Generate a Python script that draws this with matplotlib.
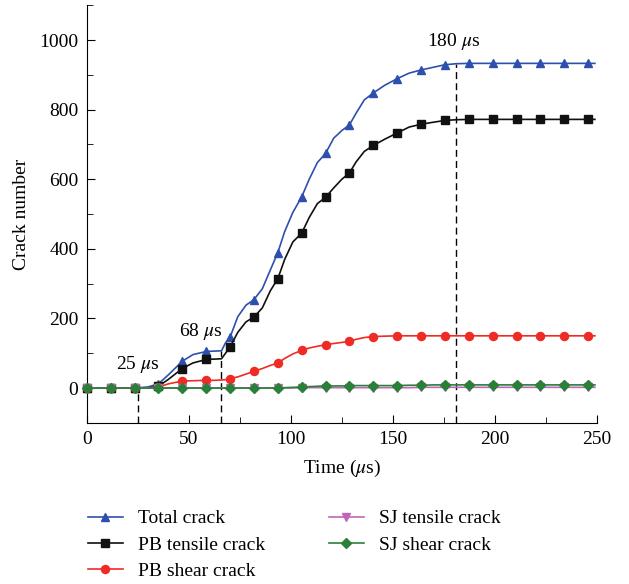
import numpy as np
import matplotlib
matplotlib.use("Agg")
import matplotlib.pyplot as plt

plt.rcParams["font.family"] = ["Liberation Serif", "DejaVu Serif"]
plt.rcParams["mathtext.fontset"] = "stix"

# time grid (us); markers sit on the 11.7 us points
time = [0, 11.7, 23.4, 30, 35.1, 40, 46.8, 52, 58.5, 62, 66, 68, 70.2, 74, 78,
        81.9, 86, 90, 93.6, 97, 101, 105.3, 109, 113, 117, 121, 125, 128.7,
        132, 136, 140.4, 146, 152.1, 158, 163.8, 170, 175.5, 181, 187.2,
        198.9, 210.6, 222.3, 234, 245.7, 249]
marker_times = [0, 11.7, 23.4, 35.1, 46.8, 58.5, 70.2, 81.9, 93.6, 105.3, 117,
                128.7, 140.4, 152.1, 163.8, 175.5, 187.2, 198.9, 210.6, 222.3,
                234, 245.7]

total = [0, 0, 0, 3, 12, 38, 77, 96, 105, 106, 107, 130, 146, 205, 238,
         254, 285, 340, 389, 450, 505, 549, 600, 648, 674, 718, 740, 756,
         790, 828, 848, 870, 889, 905, 914, 922, 929, 932, 933,
         933, 933, 933, 933, 933, 933]
pb_tensile = [0, 0, 0, 0, 5, 25, 56, 72, 82, 83, 84, 100, 118, 160, 190,
              204, 230, 280, 314, 370, 420, 445, 490, 530, 548, 575, 600, 618,
              650, 680, 697, 715, 733, 750, 758, 764, 769, 771, 772,
              772, 772, 772, 772, 772, 772]
pb_shear = [0, 0, 0, 0, 3, 12, 20, 21, 22, 22, 23, 24, 27, 32, 40,
            48, 56, 65, 72, 85, 98, 108, 115, 120, 124, 128, 131, 134,
            140, 145, 148, 149, 150, 150, 150, 150, 150, 150, 150,
            150, 150, 150, 150, 150, 150]
sj_tensile = [0, 0, 0, 0, 0, 0, 0, 0, 0, 0, 0, 0, 0, 0, 0,
              0, 0, 0, 0, 0, 0, 1, 1, 1, 1, 1, 1, 1,
              1, 1, 1, 1, 1, 1, 2, 2, 2, 2, 2,
              2, 2, 2, 2, 2, 2]
sj_shear = [0, 0, 0, 0, 0, 0, 0, 0, 0, 0, 0, 0, 0, 0, 0,
            0, 0, 0, 1, 1, 2, 3, 4, 5, 6, 6, 6, 7,
            7, 7, 7, 7, 7, 8, 8, 9, 9, 9, 9,
            9, 9, 9, 9, 9, 9]

event_x = [25, 66, 181]
event_labels = ["25 $\\mu$s", "68 $\\mu$s", "180 $\\mu$s"]
label_pos = [(25, 69), (56, 161), (180, 997)]

mark_idx = [time.index(t) for t in marker_times]

fig = plt.figure(figsize=(6.29, 5.84), dpi=100)
ax = fig.add_axes([0.138, 0.276, 0.811, 0.715])

series = [
    (total, "Total crack", "#2f4fae", "^", 6),
    (pb_tensile, "PB tensile crack", "#111111", "s", 5.2),
    (pb_shear, "PB shear crack", "#ee2b25", "o", 5.8),
    (sj_tensile, "SJ tensile crack", "#c066b8", "v", 6),
    (sj_shear, "SJ shear crack", "#2a8038", "D", 5),
]
for vals, lab, col, mk, ms in series:
    ax.plot(time, vals, color=col, lw=1.2, marker=mk, markevery=mark_idx,
            ms=ms, label=lab, clip_on=False, zorder=3)

for xe, lab, (tx, ty) in zip(event_x, event_labels, label_pos):
    top = np.interp(xe, time, total)
    ax.plot([xe, xe], [-100, top], color="black", lw=1.0, ls=(0, (5, 3)), zorder=2)
    ax.text(tx, ty, lab, ha="center", va="center", fontsize=14)

ax.set_xlim(0, 250)
ax.set_ylim(-100, 1100)
ax.set_xticks([0, 50, 100, 150, 200, 250])
ax.set_xticks([25, 75, 125, 175, 225], minor=True)
ax.set_yticks([0, 200, 400, 600, 800, 1000])
ax.set_yticks([-100, 100, 300, 500, 700, 900, 1100], minor=True)
ax.tick_params(which="both", direction="in", labelsize=14)
ax.tick_params(axis="x", which="both", pad=6)
ax.tick_params(axis="y", which="both", pad=6)
ax.tick_params(which="major", length=6)
ax.tick_params(which="minor", length=4)
ax.spines["top"].set_visible(False)
ax.spines["right"].set_visible(False)
ax.set_xlabel("Time ($\\mu$s)", fontsize=14, labelpad=7)
ax.set_ylabel("Crack number", fontsize=14, labelpad=7)

handles, labels = ax.get_legend_handles_labels()
fig.legend(handles, labels,
           loc="upper left", bbox_to_anchor=(0.112, 0.157), ncol=2,
           frameon=False, fontsize=14, handlelength=1.8, columnspacing=3.3,
           labelspacing=0.45, handletextpad=0.75)

fig.savefig("out.png", dpi=100)
